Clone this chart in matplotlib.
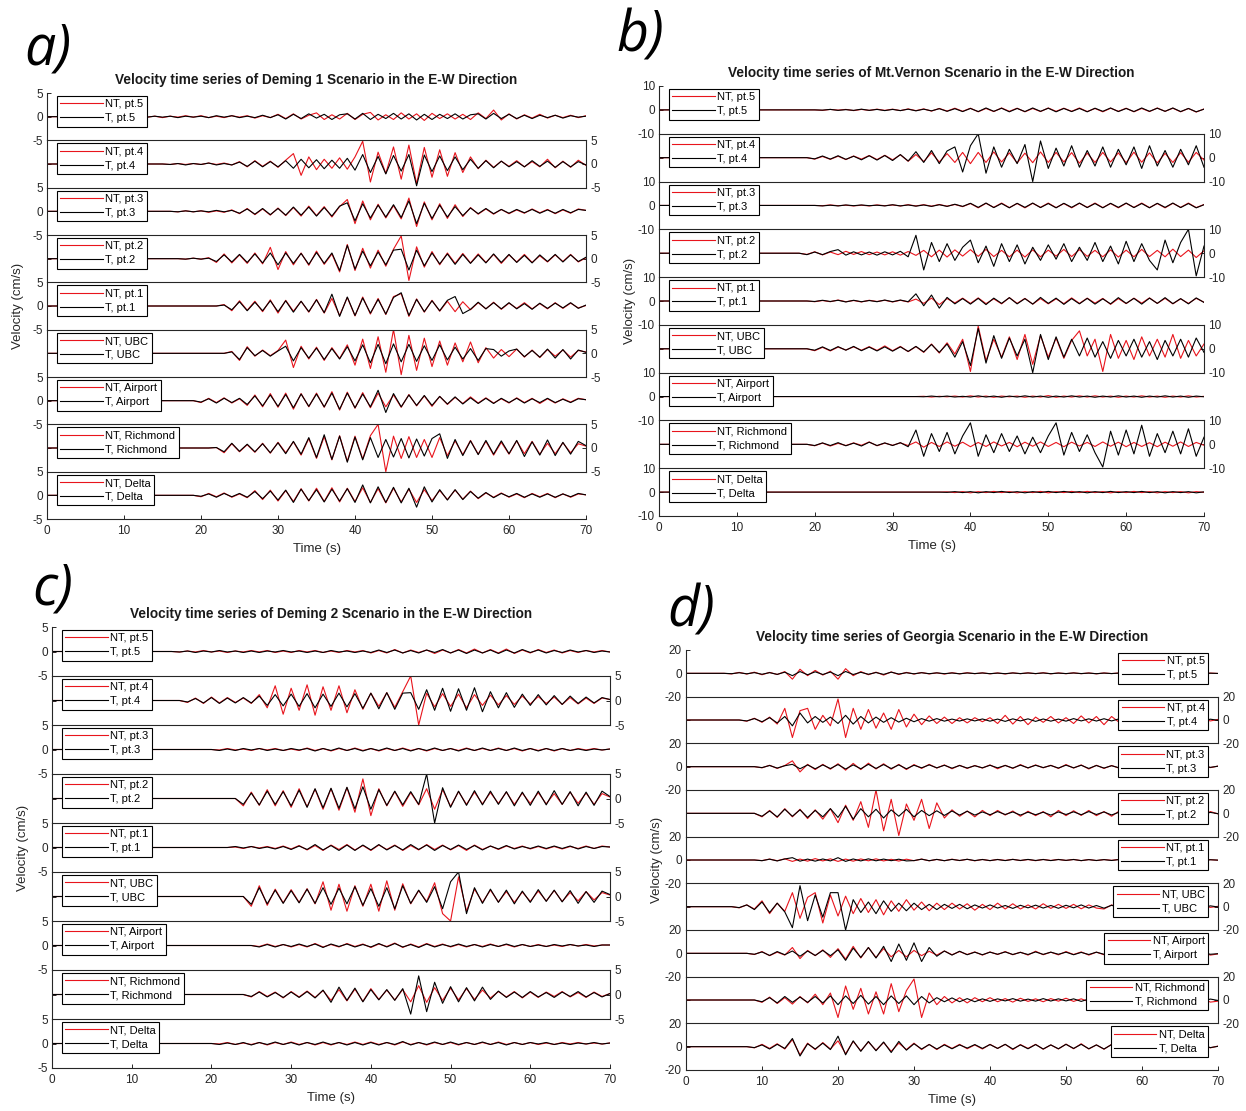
import numpy as np
import matplotlib.pyplot as plt

plt.rcParams['font.family'] = ['Liberation Sans', 'DejaVu Sans']

W, H = 1246, 1111
RED = '#e8141c'
AX = '#262626'

stations = ['pt.5', 'pt.4', 'pt.3', 'pt.2', 'pt.1', 'UBC', 'Airport', 'Richmond', 'Delta']
time_ticks = [0, 10, 20, 30, 40, 50, 60, 70]

# every record: first second where motion starts, then one value per second up to 70 s

# ---- a) Deming 1 ----
deming1_t0 = [12, 15, 16, 17, 22, 23, 19, 21, 19]
deming1_nt = [
    [0, -0.1, 0.1, -0.2, 0.1, -0.1, 0.2, -0.1,
     0.2, -0.2, 0.1, -0.2, 0.2, -0.1, 0.2, -0.3, 0.2, -0.2,
     0.5, -0.4, 0.6, -0.5, 0.3, 0.8, -0.6, 0.4, -0.5, 0.7,
     -0.6, 0.5, 0.9, -0.7, 0.4, -0.6, 0.8, -0.5, 0.6, -0.8,
     0.7, -0.4, 0.6, -0.5, 0.5, -0.6, 0.8, -0.4, 1.4, -0.7,
     0.6, -0.5, 0.4, -0.3, 0.5, -0.3, 0.3, -0.2, 0.3, -0.2, 0.2],
    [0, -0.1, 0.1, -0.1, 0.1,
     -0.1, 0.2, -0.1, 0.2, -0.2, 0.5, -0.6, 0.7, -0.5, 0.6,
     -0.7, 0.8, 2.2, -2.4, 1.5, -1.2, 1.0, -0.9, 1.3, -1.1,
     1.5, 4.8, -3.8, 2.5, -2.0, 3.6, -3.2, 4.0, -4.2, 3.5,
     -2.8, 3.0, -2.6, 2.4, -1.8, 1.5, -1.0, 0.8, -0.7, 0.6,
     -0.5, 0.7, -0.6, 0.5, -0.6, 1.0, -0.8, 0.6, -0.7, 0.8, -0.3],
    [0, -0.1, 0.1, -0.1,
     0.1, -0.2, 0.1, -0.2, 0.3, -0.5, 0.6, -0.7, 0.5, -0.8,
     0.7, -0.9, 0.8, -1.0, 1.1, -0.9, 1.0, -1.2, 1.0, 2.5,
     -2.6, 2.2, -1.8, 1.5, -1.4, 1.2, -1.6, 2.8, -3.2, 2.0,
     -1.8, 1.6, -1.5, 1.4, -1.1, 0.8, -0.6, 0.5, -0.6, 0.4,
     -0.5, 0.3, -0.4, 0.5, -0.3, 0.4, -0.5, 0.3, -0.4, 0.5, 0.2],
    [0, -0.1, 0.1,
     -0.1, 0.2, -0.8, 1.0, -0.9, 0.8, -1.0, 1.2, -1.1, 2.4,
     -2.3, 1.5, -1.3, 1.2, -1.4, 1.6, -1.2, 1.0, -2.8, 3.0,
     -2.5, 2.2, -2.0, 1.8, -1.6, 2.0, 4.8, -4.6, 2.5, -1.8,
     1.5, -1.3, 1.2, -1.0, 1.1, -0.9, 1.0, -0.8, 0.9, -1.0,
     0.8, -0.7, 0.9, -0.8, 0.6, -0.7, 0.8, -0.6, 0.9, -0.7, 0.2],
    [0, 0.3, -1.0, 1.1, -0.9, 1.0, -1.2, 1.3,
     -1.5, 1.2, -1.1, 1.0, -1.3, 1.4, -1.5, 1.6, -2.0, 1.8,
     -2.1, 1.9, -1.7, 1.6, -1.8, 2.0, 2.6, -2.2, 1.5, -1.3,
     1.2, -1.1, 1.0, -1.2, 0.9, -0.8, 0.7, -0.6, 0.8, -0.7,
     0.6, -0.5, 0.7, -0.6, 0.5, -0.6, 0.7, -0.5, 0.6, -0.4, 0.1],
    [0, 0.4, -1.5, 1.4, -0.6, 0.7, -0.5,
     0.6, 2.8, -3.0, 1.5, -1.2, 1.3, -1.5, 1.2, -1.1, 1.8,
     -2.5, 3.0, -3.2, 3.5, -4.0, 5.0, -4.5, 3.8, -3.6, 3.2,
     -2.8, 2.6, -2.5, 2.2, -1.8, 2.4, -2.0, 1.2, -1.0, 0.8,
     -0.7, 0.9, -0.8, 0.7, -0.9, 0.8, -0.6, 0.7, -0.8, 0.6, 0.3],
    [0,
     -0.4, 0.5, -0.4, 0.6, -0.5, 0.4, -1.0, 1.2, -1.3, 1.5,
     -1.4, 1.6, -1.8, 1.5, -1.3, 1.6, -1.4, 1.9, -2.0, 1.8,
     -1.6, 1.7, -1.5, 1.6, -1.3, 1.2, -1.4, 1.3, -1.1, 1.0,
     -1.2, 0.9, -0.8, 0.7, -0.6, 0.8, -0.5, 0.6, -0.5, 0.4,
     -0.5, 0.6, -0.4, 0.5, -0.6, 0.4, -0.5, 0.4, -0.3, 0.5, 0.2],
    [0, 0.1, -1.0, 0.9, -0.8, 0.7, -0.9, 1.0, -1.1,
     1.2, -1.0, 1.3, -1.5, 2.0, -2.2, 2.4, -2.5, 2.6, -2.8,
     2.5, -2.3, 2.6, 5.0, -5.0, 2.5, -2.2, 2.4, -2.0, 1.8,
     -2.0, 2.2, -1.6, 1.5, -1.4, 1.6, -1.3, 1.4, -1.5, 1.2,
     -1.3, 1.5, -1.2, 1.4, -1.3, 1.0, -1.2, 1.1, -1.0, 0.9, 0.4],
    [0,
     -0.3, 0.4, -0.3, 0.5, -0.4, 0.3, -0.5, 1.0, -0.9, 1.1,
     -1.2, 1.0, -1.3, 1.4, -1.2, 1.5, -1.3, 1.6, -1.4, 1.5,
     -1.3, 1.6, -1.5, 1.4, -1.6, 1.5, -1.4, 1.3, -1.5, 1.2,
     -1.1, 1.0, -0.9, 1.1, -0.8, 0.9, -0.7, 0.5, -0.4, 0.5,
     -0.4, 0.3, -0.5, 0.4, -0.3, 0.4, -0.5, 0.3, -0.4, 0.3, 0.1],
]
deming1_t = [
    [0, -0.1, 0.1, -0.1, 0.1, -0.2, 0.1, -0.1,
     0.1, -0.2, 0.2, -0.1, 0.2, -0.2, 0.1, -0.2, 0.3, -0.2,
     0.4, -0.5, 0.5, -0.4, 0.6, -0.3, 0.5, -0.6, 0.4, 0.6,
     -0.5, 0.7, -0.6, 0.5, -0.4, 0.7, -0.5, 0.6, -0.7, 0.5,
     -0.6, 0.5, -0.4, 0.6, -0.5, 0.4, 0.6, -0.5, 0.7, -0.4,
     0.5, -0.4, 0.3, -0.4, 0.3, -0.2, 0.3, -0.3, 0.2, -0.1, 0.1],
    [0, -0.1, 0.1, -0.2, 0.1,
     -0.1, 0.2, -0.2, 0.1, -0.2, 0.4, -0.5, 0.6, -0.6, 0.5,
     -0.6, 0.7, -0.9, 1.0, -0.8, 0.9, -1.0, 0.8, -0.9, 1.2,
     -1.3, 2.0, -1.8, 1.6, -2.1, 1.8, -1.5, 2.0, -4.6, 1.9,
     -1.6, 1.7, -1.4, 1.5, -1.2, 1.0, -0.9, 0.7, -0.8, 0.6,
     -0.6, 0.5, -0.6, 0.7, -0.5, 0.6, -0.7, 0.5, -0.6, 0.5, -0.2],
    [0, -0.1, 0.1, -0.1,
     0.1, -0.1, 0.2, -0.1, 0.2, -0.4, 0.5, -0.6, 0.6, -0.7,
     0.6, -0.8, 0.9, -0.8, 0.9, -1.0, 0.8, -1.0, 1.1, 1.8,
     -2.0, 1.6, -1.4, 1.3, -1.2, 1.4, -1.3, 2.2, -2.6, 1.7,
     -1.5, 1.3, -1.2, 1.0, -0.9, 0.7, -0.5, 0.6, -0.5, 0.4,
     -0.4, 0.4, -0.3, 0.4, -0.4, 0.3, -0.4, 0.4, -0.3, 0.4, 0.2],
    [0, -0.1, 0.1,
     -0.1, 0.1, -0.6, 0.8, -0.7, 0.9, -0.8, 1.0, -0.9, 1.2,
     -1.3, 1.2, -1.0, 1.1, -1.2, 1.3, -1.0, 1.2, -2.5, 2.8,
     -2.2, 1.6, -1.5, 1.4, -1.3, 1.8, 2.0, -2.4, 1.8, -1.5,
     1.2, -1.1, 1.0, -1.2, 0.9, -1.0, 0.8, -0.9, 1.0, -0.8,
     0.9, -0.8, 0.7, -0.9, 0.8, -0.6, 0.9, -0.7, 0.8, -0.6, 0.3],
    [0, 0.2, -0.8, 0.9, -1.0, 0.8, -1.0, 1.1,
     -1.2, 1.1, -1.3, 1.0, -1.2, 1.3, -1.4, 2.5, -2.2, 1.9,
     -2.0, 1.7, -1.5, 1.4, -1.7, 1.8, 2.8, -2.0, 1.4, -1.2,
     1.1, -1.0, 1.2, 2.0, -1.6, -0.7, 0.8, -0.6, 0.7, -0.6,
     0.7, -0.6, 0.5, -0.7, 0.6, -0.5, 0.6, -0.4, 0.7, -0.5, 0.2],
    [0, 0.3, -1.3, 1.2, -0.5, 0.6, -0.6,
     0.5, 1.5, -1.6, 1.2, -1.0, 1.1, -1.3, 1.0, -1.2, 1.4,
     -1.6, 1.8, -2.0, 1.9, -2.2, 2.0, -1.8, 1.9, -1.7, 1.6,
     -1.5, 1.8, -1.4, 1.3, -1.2, 1.0, -1.5, 1.0, 0.8, -0.6,
     0.5, 0.9, -0.7, 0.6, -0.8, 0.9, -1.0, 0.8, -1.2, 0.7, 0.2],
    [0,
     -0.3, 0.4, -0.5, 0.5, -0.4, 0.5, -0.8, 1.0, -1.1, 1.2,
     -1.2, 1.3, -1.5, 1.4, -1.2, 1.4, -1.3, 1.6, -1.8, 1.6,
     -1.5, 1.4, -1.3, 2.2, -2.5, 1.5, -1.3, 1.2, -1.0, 1.1,
     -1.0, 0.9, -0.7, 0.8, -0.7, 0.6, -0.6, 0.5, -0.6, 0.5,
     -0.4, 0.5, -0.5, 0.4, -0.4, 0.5, -0.4, 0.3, -0.4, 0.4, 0.2],
    [0, 0.1, -0.8, 1.0, -0.7, 0.8, -0.8, 0.9, -1.0,
     1.1, -1.2, 1.4, -1.3, 2.2, -2.0, 2.8, -2.4, 2.5, -3.0,
     2.3, -2.5, 2.2, -2.0, 1.8, -1.9, 2.0, -2.1, 1.9, -1.7,
     2.0, 3.0, -2.2, 1.8, -1.6, 1.5, -1.4, 1.6, -1.3, 1.5,
     -1.2, 1.6, -1.8, 1.3, -1.5, 1.7, -1.6, 1.2, -1.3, 1.4, 0.5],
    [0,
     -0.2, 0.3, -0.4, 0.4, -0.3, 0.4, -0.4, 0.8, -0.7, 0.9,
     -1.0, 1.1, -1.5, 1.3, -1.1, 1.2, -1.4, 1.3, -1.2, 1.4,
     -1.5, 2.2, -1.6, 1.8, -1.5, 1.7, -1.6, 1.5, -2.5, 1.8,
     -1.4, 1.2, -1.0, 1.2, -0.9, 0.8, -0.6, 0.6, -0.5, 0.4,
     -0.3, 0.4, -0.4, 0.3, -0.4, 0.3, -0.4, 0.3, -0.3, 0.4, 0.1],
]

# ---- b) Mt.Vernon ----
mtvernon_t0 = [20, 19, 20, 18, 19, 19, 33, 19, 36]
mtvernon_nt = [
    [0, -0.2, 0.2, -0.1, 0.2, -0.3, 0.2, -0.2, 0.3, -0.2,
     0.3, -0.3, 0.4, -0.3, 0.4, -0.5, 0.6, -0.5, 0.7, -0.6,
     0.7, -0.8, 0.6, -0.7, 0.8, -0.6, 0.7, -0.8, 0.6, -0.7,
     0.8, -0.6, 0.7, -0.6, 0.8, -0.7, 0.6, -0.8, 0.7, -0.6,
     0.7, -0.8, 0.6, -0.7, 0.8, -0.6, 0.7, -0.8, 0.6, -0.9, 0.4],
    [0,
     -0.6, 0.5, -0.7, 0.6, -0.8, 0.7, -0.6, 0.9, -0.8, 1.0,
     -0.9, 1.2, -1.5, 1.3, -1.6, 2.0, -1.8, 1.7, -2.0, 2.2,
     -2.5, 2.2, -2.0, 2.4, -1.8, 2.0, -2.2, 1.9, -2.1, 2.4,
     -2.0, 2.2, -1.8, 2.1, -2.3, 1.9, -2.0, 2.2, -1.8, 2.0,
     -2.1, 2.3, -1.9, 2.0, -2.2, 1.8, -2.0, 2.1, -1.9, 2.2, -1.0],
    [0, -0.1, 0.2, -0.1, 0.1, -0.2, 0.1, -0.2, 0.2, -0.1,
     0.2, -0.2, 0.3, -0.2, 0.3, -0.3, 0.4, -0.3, 0.4, -0.5,
     0.8, -1.0, 0.9, -0.8, 1.0, -0.9, 0.8, -1.0, 0.9, -0.8,
     1.0, -0.9, 0.8, -1.0, 0.9, -0.8, 1.0, -0.9, 0.8, -1.0,
     0.9, -0.8, 1.0, -0.9, 0.8, -1.0, 0.9, -0.8, 1.0, -0.9, 0.4],
    [0, -0.5,
     0.6, -0.7, 0.5, -0.6, 0.8, -0.5, 0.7, -0.6, 0.5, -0.7,
     0.6, -0.8, 0.7, -0.9, 1.2, -1.5, 1.3, -1.6, 1.4, -1.2,
     1.5, -1.3, 1.6, -1.4, 1.2, -1.5, 1.3, -1.6, 1.4, -1.5,
     1.3, -1.2, 1.6, -1.4, 1.5, -1.3, 1.2, -1.5, 1.4, -1.6,
     1.3, -1.5, 1.6, -1.4, 1.2, -1.5, 1.7, -1.4, 1.3, -1.8, 1.0],
    [0,
     -0.3, 0.2, -0.3, 0.4, -0.3, 0.2, -0.4, 0.3, -0.2, 0.3,
     -0.4, 0.3, -0.4, 0.8, -1.0, 1.2, -1.5, 1.0, -0.8, 1.2,
     -1.0, 1.3, -1.1, 0.9, -1.2, 1.4, -1.0, 1.1, -1.3, 1.0,
     -1.2, 0.9, -1.1, 1.3, -1.0, 1.2, -0.9, 1.1, -1.4, 1.0,
     -1.1, 1.2, -0.9, 1.3, -1.0, 1.1, -1.2, 0.9, -1.0, 1.1, -0.5],
    [0,
     -0.8, 0.6, -0.9, 0.7, -0.5, 0.8, -0.6, 0.9, -0.7, 1.2,
     -0.8, 1.0, -1.2, 0.9, -1.5, 2.0, -1.8, 2.5, -2.2, 4.0,
     -9.5, 9.5, -5.0, 4.0, -3.5, 5.0, -4.5, 6.0, -6.5, 5.5,
     -3.5, 4.5, -4.0, 3.5, 7.5, -3.0, 4.0, -9.5, 6.0, -4.0,
     3.5, -4.5, 5.0, -3.0, 4.0, -3.5, 6.0, -4.0, 3.5, -3.0, 2.0],
    [0, 0.1, -0.2, 0.1, -0.1, 0.2, -0.2,
     0.3, -0.2, 0.2, -0.3, 0.2, -0.1, 0.2, -0.3, 0.2, -0.2,
     0.4, -0.3, 0.2, -0.2, 0.3, -0.2, 0.3, -0.2, 0.2, -0.3,
     0.2, -0.2, 0.3, -0.2, 0.2, -0.3, 0.2, -0.2, 0.3, -0.2, 0.1],
    [0,
     -0.6, 0.5, -0.7, 0.4, -0.5, 0.6, -0.4, 1.0, -0.6, 0.5,
     -0.4, 0.6, -0.5, 1.0, -1.2, 0.8, -0.9, 1.0, -0.8, 0.9,
     -1.0, 0.8, -0.9, 1.0, -0.7, 0.8, -1.0, 0.9, -0.8, 1.0,
     -0.9, 0.8, -1.0, 0.9, -0.7, 0.8, -0.9, 1.0, -0.8, 0.9,
     -1.0, 0.8, -0.9, 0.7, -1.0, 0.9, -0.8, 1.0, -0.9, 0.8, -0.4],
    [0, 0.1, -0.2, 0.2,
     -0.3, 0.2, -0.2, 0.3, -0.2, 0.2, -0.3, 0.2, -0.2, 0.3,
     -0.3, 0.2, -0.2, 0.3, -0.2, 0.3, -0.2, 0.2, -0.3, 0.2,
     -0.2, 0.3, -0.2, 0.2, -0.3, 0.2, -0.2, 0.2, -0.3, 0.2, -0.1],
]
mtvernon_t = [
    [0, -0.1, 0.2, -0.2, 0.1, -0.2, 0.3, -0.2, 0.2, -0.3,
     0.2, -0.3, 0.3, -0.4, 0.3, -0.4, 0.5, -0.6, 0.5, -0.7,
     0.6, -0.7, 0.8, -0.6, 0.7, -0.8, 0.6, -0.7, 0.8, -0.6,
     0.7, -0.8, 0.6, -0.7, 0.6, -0.8, 0.7, -0.6, 0.8, -0.7,
     0.6, -0.7, 0.8, -0.6, 0.7, -0.6, 0.8, -0.7, 0.6, -0.8, 0.3],
    [0,
     -0.5, 0.7, -0.6, 0.8, -0.7, 0.6, -0.9, 0.8, -1.0, 0.9,
     -1.2, 1.3, -1.4, 2.5, -2.0, 3.0, -2.5, 2.8, 4.5, -6.0,
     5.0, 10.0, -6.5, 4.5, -4.0, 3.5, -2.5, 5.5, -10.0, 7.0,
     -4.5, 4.0, -3.5, 5.0, -4.0, 3.0, -3.5, 4.5, -4.0, 3.5,
     -3.0, 4.5, -4.5, 5.0, -3.5, 3.0, -4.0, 3.5, -3.0, 5.0, -4.0],
    [0, -0.2, 0.1, -0.2, 0.2, -0.1, 0.2, -0.1, 0.1, -0.2,
     0.3, -0.2, 0.2, -0.3, 0.2, -0.4, 0.3, -0.4, 0.5, -0.4,
     0.9, -0.8, 1.0, -0.9, 0.8, -1.0, 0.9, -0.8, 1.0, -0.9,
     0.8, -1.0, 0.9, -0.8, 1.0, -0.9, 0.8, -1.0, 0.9, -0.8,
     1.0, -0.9, 0.8, -1.0, 0.9, -0.8, 1.0, -0.9, 0.8, -1.0, 0.3],
    [0, -0.6,
     0.5, -0.6, 0.7, 1.5, -0.8, 0.6, -0.7, 0.5, -0.8, 0.6,
     -0.7, 0.8, -1.5, 7.5, -7.0, 4.5, -3.5, 4.0, -3.0, 2.5,
     5.5, -4.0, 3.0, -5.5, 4.0, -3.5, 3.5, -4.5, 2.5, -3.0,
     3.5, -2.5, 4.0, -3.5, 2.5, -3.0, 4.5, -3.5, 3.0, -4.5,
     5.0, -3.5, 4.0, -3.0, -7.0, 5.5, -4.0, 4.5, 10.0, -9.5, 3.0],
    [0,
     -0.2, 0.3, -0.2, 0.3, -0.4, 0.3, -0.3, 0.2, -0.3, 0.4,
     -0.3, 0.4, -0.3, 3.0, -2.0, 2.5, -3.0, 1.5, -1.2, 1.0,
     -1.3, 1.1, -1.5, 1.2, -1.0, 1.4, -1.2, 1.0, -1.3, 1.5,
     -1.0, 1.2, -1.4, 1.0, -1.2, 1.1, -1.3, 0.9, -1.2, 1.4,
     -1.0, 1.1, -1.3, 1.2, -1.0, 1.4, -1.1, 1.0, -1.2, 1.3, -0.6],
    [0,
     -0.6, 0.8, -0.7, 0.9, -0.6, 1.0, -0.8, 0.7, -0.9, 0.8,
     -1.0, 0.8, -1.1, 1.0, -1.3, 1.8, -1.5, 2.0, -3.5, 3.0,
     -7.0, 8.5, -6.0, 5.5, -4.0, 4.5, -3.0, 4.0, -10.0, 6.0,
     -4.5, 5.0, -3.5, 4.0, -3.0, 4.5, -3.5, 3.0, -4.0, 3.5,
     -3.0, 4.0, -3.5, 3.0, -4.5, 3.5, -3.0, 4.0, -3.5, 4.5, -1.5],
    [0, -0.1, 0.2, -0.1, 0.2, -0.2, 0.1,
     -0.2, 0.3, -0.2, 0.2, -0.3, 0.2, -0.2, 0.3, -0.2, 0.2,
     -0.3, 0.2, -0.2, 0.3, -0.2, 0.2, -0.3, 0.2, -0.2, 0.3,
     -0.2, 0.2, -0.3, 0.2, -0.2, 0.3, -0.2, 0.2, -0.3, 0.2, -0.1],
    [0,
     -0.5, 0.6, -0.5, 0.7, -0.6, 0.5, -0.7, 0.9, -0.5, 0.6,
     -0.5, 0.7, -1.0, 6.0, -5.0, 4.5, -3.0, 5.0, -4.0, 3.5,
     9.0, -5.0, 4.0, -3.5, 4.5, -3.0, 3.5, -4.0, 3.0, -3.5,
     3.5, 9.0, -4.5, 5.0, -3.0, 4.0, -3.5, -9.5, 5.5, -4.5,
     6.0, -4.0, 8.0, -5.0, 4.5, -3.5, 5.5, -4.0, 6.5, -5.0, 3.0],
    [0, -0.1, 0.2, -0.2,
     0.2, -0.3, 0.2, -0.2, 0.3, -0.2, 0.2, -0.3, 0.2, -0.2,
     0.3, -0.2, 0.3, -0.2, 0.2, -0.3, 0.2, -0.2, 0.3, -0.2,
     0.2, -0.2, 0.3, -0.2, 0.2, -0.3, 0.2, -0.2, 0.2, -0.3, 0.1],
]

# ---- c) Deming 2 ----
deming2_t0 = [15, 16, 20, 23, 22, 24, 25, 24, 20]
deming2_nt = [
    [0, -0.1, 0.1, -0.1, 0.2,
     -0.1, 0.1, -0.2, 0.1, -0.1, 0.2, -0.1, 0.2, -0.2, 0.1,
     -0.2, 0.2, -0.1, 0.2, -0.2, 0.1, -0.2, 0.2, -0.1, 0.2,
     -0.3, 0.2, -0.3, 0.4, -0.3, 0.3, -0.2, 0.3, -0.4, 0.3,
     -0.3, 0.4, -0.3, 0.5, -0.3, 0.4, -0.3, 0.5, -0.4, 0.3,
     -0.3, 0.4, -0.2, 0.3, -0.3, 0.2, -0.2, 0.2, -0.1, 0.2, -0.1],
    [0, -0.4, 0.5, -0.6,
     0.7, -0.5, 0.6, -0.4, 0.5, -0.6, 1.2, -1.5, 3.0, -2.8,
     2.5, -2.0, 3.2, -3.0, 2.8, -2.0, 3.0, -2.5, 2.2, -1.8,
     1.5, -1.2, 1.6, -1.4, 1.8, 5.0, -5.0, 1.5, -1.3, 1.4,
     -1.2, 1.3, -1.5, 1.2, -1.0, 1.1, -0.9, 1.0, -0.8, 0.9,
     -0.7, 0.8, -0.6, 0.7, -0.8, 0.6, -0.7, 0.5, -0.6, 0.5, 0.2],
    [0, -0.1, 0.2, -0.1, 0.1, -0.2, 0.2, -0.1, 0.2, -0.2,
     0.1, -0.2, 0.3, -0.2, 0.2, -0.3, 0.2, -0.2, 0.3, -0.2,
     0.2, -0.3, 0.2, -0.2, 0.3, -0.2, 0.2, -0.3, 0.2, -0.2,
     0.2, -0.2, 0.3, -0.2, 0.2, -0.2, 0.3, -0.2, 0.2, -0.3,
     0.2, -0.2, 0.2, -0.3, 0.2, -0.2, 0.2, -0.1, 0.2, -0.1, 0.1],
    [0, -1.5, 1.3, -1.4, 1.8, -1.5, 1.6,
     -1.8, 2.0, -1.7, 1.9, -2.2, 2.0, -2.4, 2.2, -2.8, 4.0,
     -3.5, 2.0, -1.5, 1.4, -1.6, 1.2, -1.3, 2.0, -2.2, 1.8,
     -1.6, 1.4, -1.2, 1.3, -1.1, 1.2, -1.0, 1.3, -1.2, 1.1,
     -1.0, 1.2, -1.1, 1.0, -1.2, 1.3, -1.0, 1.1, -1.2, 1.0, 0.3],
    [0, 0.1, -0.2, 0.2, -0.1, 0.2, -0.2, 0.3,
     -0.3, 0.4, -0.5, 0.4, -0.6, 0.5, -0.4, 0.6, -0.5, 0.4,
     -0.6, 0.5, -0.4, 0.5, -0.6, 0.4, -0.5, 0.6, -0.4, 0.5,
     -0.5, 0.4, -0.6, 0.5, -0.4, 0.3, -0.4, 0.3, -0.2, 0.3,
     -0.3, 0.2, -0.3, 0.2, -0.3, 0.2, -0.2, 0.3, -0.2, 0.3, 0.1],
    [0, -2.0, 2.2, -1.8, 1.5, -1.3,
     1.4, -1.2, 1.6, -1.5, 3.0, -2.8, 2.5, -3.0, 2.2, -2.0,
     2.5, -3.0, 3.2, -2.8, 2.6, -1.5, 1.2, -1.0, 2.8, -3.5,
     -5.0, 4.0, -3.0, 1.5, -1.2, 1.3, -1.1, 1.0, -1.2, 0.9,
     -1.0, 1.1, -0.9, 1.2, -1.0, 0.8, -0.9, 1.0, -0.7, 0.8, 0.3],
    [0, -0.2, 0.3, -0.2, 0.2,
     -0.3, 0.2, -0.3, 0.4, -0.3, 0.2, -0.3, 0.4, -0.2, 0.3,
     -0.4, 0.3, -0.2, 0.5, -0.4, 0.3, -0.3, 0.4, -0.2, 0.3,
     -0.3, 0.2, -0.3, 0.2, -0.2, 0.3, -0.2, 0.2, -0.3, 0.2,
     -0.2, 0.2, -0.2, 0.1, -0.2, 0.2, -0.1, 0.2, -0.1, 0.1, 0.1],
    [0, -0.5, 0.6, -0.4, 0.5, -0.7,
     0.6, -0.5, 0.7, -0.6, 0.8, -1.2, 1.0, -1.3, 1.1, -1.4,
     1.2, -1.0, 0.9, -1.1, 1.0, -1.5, 1.8, -1.6, 1.4, -1.2,
     1.3, -1.1, 1.2, -1.0, 0.9, -0.7, 0.6, -0.5, 0.6, -0.7,
     0.5, -0.6, 0.5, -0.4, 0.6, -0.5, 0.4, -0.6, 0.5, -0.4, 0.2],
    [0, -0.1, 0.2, -0.2, 0.1, -0.2, 0.2, -0.3, 0.2, -0.2,
     0.3, -0.2, 0.2, -0.3, 0.2, -0.3, 0.2, -0.2, 0.3, -0.2,
     0.3, -0.2, 0.2, -0.3, 0.3, -0.2, 0.2, -0.3, 0.2, -0.2,
     0.2, -0.3, 0.2, -0.2, 0.2, -0.2, 0.3, -0.2, 0.2, -0.2,
     0.2, -0.2, 0.1, -0.2, 0.2, -0.1, 0.2, -0.1, 0.1, -0.1, 0.1],
]
deming2_t = [
    [0, -0.1, 0.1, -0.2, 0.1,
     -0.1, 0.2, -0.1, 0.1, -0.2, 0.1, -0.2, 0.1, -0.1, 0.2,
     -0.1, 0.1, -0.2, 0.1, -0.2, 0.2, -0.1, 0.1, -0.2, 0.1,
     -0.2, 0.3, -0.2, 0.3, -0.3, 0.2, -0.3, 0.3, -0.2, 0.4,
     -0.3, 0.3, -0.4, 0.3, -0.3, 0.3, -0.4, 0.3, -0.3, 0.4,
     -0.2, 0.3, -0.3, 0.2, -0.2, 0.3, -0.1, 0.2, -0.2, 0.1, -0.1],
    [0, -0.3, 0.4, -0.5,
     0.6, -0.6, 0.5, -0.5, 0.6, -0.5, 0.9, -1.0, 1.2, -1.1,
     1.3, -1.2, 1.4, -1.5, 1.3, -1.2, 1.5, -1.3, 1.4, -1.6,
     1.5, -1.7, 1.6, -1.8, 1.5, 1.6, -1.8, 2.2, -2.0, 2.5,
     -2.2, 2.4, -2.0, 2.6, -2.3, 1.8, -1.5, 1.6, -1.4, 1.3,
     -1.0, 1.2, -0.9, 1.0, -0.8, 0.9, -0.6, 0.7, -0.5, 0.6, 0.2],
    [0, -0.2, 0.1, -0.2, 0.2, -0.1, 0.2, -0.2, 0.1, -0.2,
     0.2, -0.1, 0.2, -0.3, 0.2, -0.2, 0.3, -0.2, 0.2, -0.3,
     0.2, -0.2, 0.3, -0.2, 0.2, -0.3, 0.2, -0.2, 0.3, -0.2,
     0.2, -0.3, 0.2, -0.2, 0.3, -0.2, 0.2, -0.2, 0.3, -0.2,
     0.2, -0.3, 0.2, -0.2, 0.2, -0.2, 0.1, -0.2, 0.1, -0.1, 0.1],
    [0, -1.2, 1.1, -1.3, 1.5, -1.2, 1.4,
     -1.5, 1.7, -1.8, 2.0, -1.9, 2.1, -2.0, 2.3, -2.1, 2.4,
     -2.2, 1.8, -1.4, 1.5, -1.3, 1.4, -1.2, 5.0, -5.0, 2.2,
     -1.8, 1.5, -1.4, 1.6, -1.3, 1.5, -1.2, 1.4, -1.5, 1.3,
     -1.4, 1.5, -1.3, 1.6, -1.2, 1.4, -1.5, 1.3, -1.4, 1.5, 0.4],
    [0, 0.2, -0.1, 0.2, -0.2, 0.1, -0.3, 0.2,
     -0.4, 0.3, -0.4, 0.6, -0.5, 0.4, -0.6, 0.5, -0.6, 0.5,
     -0.5, 0.6, -0.5, 0.4, -0.5, 0.6, -0.4, 0.5, -0.6, 0.4,
     -0.4, 0.5, -0.4, 0.4, -0.5, 0.3, -0.3, 0.4, -0.3, 0.2,
     -0.2, 0.3, -0.2, 0.3, -0.2, 0.3, -0.3, 0.2, -0.2, 0.2, 0.1],
    [0, -1.6, 1.8, -1.5, 1.3, -1.4,
     1.2, -1.3, 1.5, -1.4, 1.8, -1.6, 1.7, -1.5, 2.0, -1.8,
     1.6, -2.0, 1.8, -2.5, 2.2, -1.4, 1.3, -1.2, 2.0, -2.5,
     3.0, 5.0, -3.5, 1.8, -1.4, 1.5, -1.2, 1.3, -1.5, 1.1,
     -1.2, 1.4, -1.0, 1.3, -1.1, 1.2, -1.4, 1.0, -1.2, 1.1, 0.4],
    [0, -0.3, 0.2, -0.3, 0.2,
     -0.2, 0.3, -0.2, 0.3, -0.4, 0.3, -0.2, 0.3, -0.3, 0.2,
     -0.3, 0.4, -0.3, 0.4, -0.3, 0.2, -0.4, 0.3, -0.3, 0.2,
     -0.2, 0.3, -0.2, 0.2, -0.3, 0.2, -0.2, 0.3, -0.2, 0.2,
     -0.2, 0.1, -0.2, 0.2, -0.1, 0.2, -0.1, 0.1, -0.2, 0.1, 0.1],
    [0, -0.4, 0.5, -0.5, 0.4, -0.6,
     0.5, -0.6, 0.6, -0.7, 0.9, -1.6, 1.5, -1.2, 1.3, -1.5,
     1.0, -1.1, 1.0, -1.2, 1.2, -4.0, 3.8, -3.5, 2.5, -1.8,
     1.6, -1.5, 1.4, -1.3, 1.5, -1.0, 0.7, -0.6, 0.5, -0.6,
     0.6, -0.5, 0.4, -0.6, 0.5, -0.4, 0.6, -0.5, 0.4, -0.5, 0.2],
    [0, -0.2, 0.1, -0.2, 0.2, -0.3, 0.2, -0.2, 0.3, -0.2,
     0.2, -0.3, 0.2, -0.2, 0.3, -0.2, 0.2, -0.3, 0.2, -0.3,
     0.2, -0.3, 0.2, -0.2, 0.4, -0.3, 0.2, -0.2, 0.3, -0.2,
     0.3, -0.2, 0.2, -0.2, 0.3, -0.2, 0.2, -0.3, 0.2, -0.2,
     0.2, -0.1, 0.2, -0.2, 0.1, -0.2, 0.1, -0.1, 0.2, -0.1, 0.1],
]

# ---- d) Georgia ----
georgia_t0 = [5, 7, 9, 9, 9, 6, 8, 9, 8]
georgia_nt = [
    [0, -0.5, 0.8, -0.6, 1.0,
     -1.2, 0.8, -1.0, 1.5, -5.0, 3.5, -2.0, 2.5, -1.5, 1.8,
     -5.0, 4.0, -2.0, 1.5, -1.2, 1.0, -1.5, 1.2, -1.0, 0.8,
     -0.6, 0.7, -0.5, 0.4, -0.6, 0.5, -0.4, 0.5, -0.3, 0.4,
     -0.4, 0.3, -0.5, 0.4, -0.3, 0.4, -0.3, 0.5, -0.4, 0.3,
     -0.3, 0.4, -0.3, 0.3, -0.4, 0.3, -0.2, 0.3, -0.3, 0.2,
     -0.3, 0.4, -0.3, 0.2, -0.3, 0.3, -0.2, 0.3, -0.2, 0.2, -0.1],
    [0, -1.0, 1.5,
     -2.0, 2.5, -3.5, 10.0, -15.0, 8.0, 10.0, -8.0, 4.0, -5.0,
     18.0, -15.0, 10.0, -8.0, 9.0, -7.0, 6.0, -8.0, 9.0, -6.0,
     5.0, -4.0, 3.5, -3.0, 2.5, -3.0, 2.0, -2.5, 2.0, -1.5,
     2.0, -3.0, 4.0, -3.5, 3.0, -4.0, 2.5, -2.0, 3.0, -2.5,
     2.0, -3.0, 3.5, -2.5, 3.0, -4.0, 3.0, -2.0, 2.5, -2.0,
     1.5, -2.0, 1.5, -1.0, 1.5, -1.2, 1.0, -1.5, 1.0, -0.8, 0.5],
    [0,
     -1.0, 1.2, -1.5, 1.0, 5.0, -4.5, 2.0, -2.5, 2.0, -2.2,
     2.5, -3.0, 2.8, -2.5, 3.0, -2.0, 2.5, -2.2, 2.0, -2.5,
     1.8, -1.5, 2.0, -1.2, 1.5, -1.8, 1.2, -1.5, 1.0, -1.2,
     1.5, -1.8, 1.2, -1.5, 1.8, -1.2, 1.5, -1.0, 1.2, -1.5,
     1.8, -1.2, 1.5, -2.0, 1.2, -1.5, 1.0, -1.3, 1.5, -1.2,
     1.0, -1.5, 1.8, -1.2, 1.5, -1.0, 1.3, -1.2, 1.0, -0.8, 0.5],
    [0,
     -3.0, 2.5, -3.5, 4.0, -3.0, 3.5, -4.5, 3.0, -5.0, 4.0,
     -8.0, 7.0, -6.0, 10.0, -12.0, 20.0, -15.0, 12.0, -19.0, 8.0,
     -6.0, 12.0, -13.0, 9.0, -4.0, 3.0, -2.5, 2.0, -3.0, 2.5,
     -2.0, 2.5, -1.5, 2.0, -2.5, 1.8, -2.0, 1.5, -3.0, 2.5,
     -2.0, 2.2, -1.8, 2.5, -2.0, 1.5, -2.5, 2.0, -1.5, 1.8,
     -2.0, 1.5, -1.8, 2.0, -1.5, 1.2, -1.8, 1.5, -1.0, 1.5, -0.5],
    [0,
     -0.5, 0.8, -0.6, 1.0, -1.2, 0.8, -1.0, 1.2, -0.8, 1.0,
     -1.2, 0.8, -1.0, 0.9, -0.7, 1.0, -0.8, 0.6, -0.9, 0.7,
     -0.6, 0.8, -0.7, 0.5, -0.6, 0.7, -0.5, 0.6, -0.7, 0.5,
     -0.6, 0.5, -0.4, 0.6, -0.5, 0.4, -0.6, 0.5, -0.4, 0.5,
     -0.4, 0.5, -0.6, 0.4, -0.5, 0.4, -0.3, 0.5, -0.4, 0.3,
     -0.4, 0.5, -0.3, 0.4, -0.3, 0.4, -0.5, 0.3, -0.4, 0.3, -0.2],
    [0, -1.0, 1.5, -2.0,
     5.0, -6.0, 3.0, -4.0, 12.0, -10.0, 8.0, 12.0, -14.0, 10.0,
     -8.0, 9.0, -6.0, 7.0, -5.0, 6.0, -7.0, 5.0, -4.0, 6.0,
     -3.0, 4.0, -3.5, 3.0, -2.5, 3.0, -2.0, 2.5, -3.0, 2.0,
     -2.5, 3.0, -2.0, 2.5, -2.0, 1.5, -2.0, 2.5, -1.5, 2.0,
     -1.5, 2.0, -1.8, 1.5, -1.2, -2.0, 1.5, -1.0, 1.2, -0.8,
     1.0, -0.8, 1.2, -1.0, 0.8, -1.0, 0.9, -0.7, 0.8, -0.6, 0.3],
    [0, -1.0,
     1.5, -2.0, 1.0, -1.5, 5.0, -4.5, 2.5, -2.0, 3.0, -3.5,
     4.0, -5.0, 6.0, -4.0, 5.0, -3.5, 4.0, -3.0, 2.5, -3.0,
     2.5, -2.0, 1.8, -1.5, 2.0, -1.2, 1.5, -1.0, 1.2, -1.5,
     1.2, -1.0, 1.5, -1.2, 1.0, -1.5, 1.8, -1.2, 1.0, -1.3,
     1.5, -1.0, 1.2, -1.5, 1.0, -1.2, 1.5, -1.0, 1.2, -0.8,
     1.0, -1.2, 0.8, -1.0, 1.2, -0.8, 1.0, -1.2, 0.9, -1.5, -0.5],
    [0,
     -2.0, 2.5, -3.0, 2.0, -3.5, 3.0, -2.5, 5.0, -4.0, 6.0,
     -15.0, 12.0, -8.0, 10.0, -12.0, 7.0, -12.0, 14.0, -10.0, 8.0,
     18.0, -15.0, 6.0, -4.0, 3.0, -2.5, 2.0, -2.5, 2.0, -1.5,
     2.0, -1.5, 1.2, -1.8, 1.5, -1.2, 1.0, -1.5, 1.2, -1.0,
     1.5, -1.2, 1.0, -1.5, 1.2, -1.0, 0.8, -1.2, 1.0, -0.8,
     1.2, -1.0, 0.8, -1.2, 1.0, -0.8, 1.2, -1.5, 1.0, -1.8, -1.0],
    [0, -1.0,
     2.0, -1.5, 2.5, -2.0, 6.0, -7.0, 3.0, -2.5, 3.5, -2.0,
     5.0, -6.0, 4.5, -3.5, 4.0, -3.0, 3.5, -4.0, 3.0, -2.5,
     3.0, -2.5, 2.0, -2.5, 2.0, -1.5, 2.0, -1.8, 1.5, -2.0,
     2.0, -1.5, 2.0, -2.5, 1.8, -1.5, 2.0, -2.2, 1.5, -2.0,
     2.2, -1.8, 2.5, -2.0, 1.5, -2.2, 2.0, -1.5, 2.5, -2.0,
     1.8, -1.5, 2.0, -1.8, 1.5, -1.2, 1.8, -1.5, 1.2, -1.0, 0.5],
]
georgia_t = [
    [0, -0.3, 0.5, -0.4, 0.6,
     -0.8, 0.6, -0.9, 1.0, -2.0, 1.5, -1.2, 1.3, -1.0, 1.1,
     -2.0, 1.6, -1.0, 0.9, -0.8, 0.7, -0.9, 1.0, -0.6, 0.5,
     -0.4, 0.5, -0.3, 0.4, -0.3, 0.3, -0.4, 0.3, -0.2, 0.3,
     -0.3, 0.2, -0.3, 0.3, -0.2, 0.3, -0.2, 0.3, -0.3, 0.2,
     -0.2, 0.3, -0.2, 0.2, -0.3, 0.2, -0.2, 0.2, -0.2, 0.2,
     -0.2, 0.3, -0.2, 0.2, -0.2, 0.2, -0.1, 0.2, -0.2, 0.1, -0.1],
    [0, -0.8, 1.2,
     -1.5, 2.0, -2.5, 3.0, -5.0, 6.0, -2.5, 3.0, -2.0, 2.5,
     -3.0, 4.0, -3.5, 3.0, -2.5, 2.5, -2.0, 2.0, -1.8, 1.5,
     -1.5, 1.2, -1.0, 1.2, -1.0, 0.8, -0.9, 1.0, -0.8, 0.9,
     -1.0, 0.8, -1.2, 1.0, -0.8, 1.0, -1.2, 0.9, -1.0, 0.8,
     -1.0, 1.2, -0.8, 1.0, -0.9, 1.1, -0.8, 1.0, -1.2, 0.9,
     -0.8, 1.0, -0.9, 0.8, -1.0, 0.9, -0.7, 0.8, -0.9, 0.7, -0.3],
    [0,
     -0.8, 1.0, -1.2, 0.8, 2.0, -1.8, 1.5, -1.8, 1.5, -1.6,
     1.8, -2.0, 1.5, -1.8, 2.0, -1.5, 1.8, -1.6, 1.5, -1.8,
     1.2, -1.0, 1.5, -1.0, 1.2, -1.3, 1.0, -1.2, 0.8, -1.0,
     1.2, -1.0, 1.0, -1.2, 1.3, -1.0, 1.2, -0.8, 1.0, -1.2,
     1.3, -1.0, 1.2, -1.5, 1.0, -1.2, 0.8, -1.0, 1.2, -1.0,
     0.8, -1.2, 1.3, -1.0, 1.2, -0.8, 1.0, -1.0, 0.8, -0.6, 0.4],
    [0,
     -2.5, 2.0, -3.0, 3.5, -2.5, 3.0, -3.5, 2.5, -3.0, 4.0,
     -3.5, 6.0, -5.0, 4.0, -3.0, 3.5, -4.0, 3.0, -2.5, 3.5,
     -3.0, 2.5, -2.0, 2.2, -1.8, 2.0, -1.5, 1.8, -1.5, 1.2,
     -1.2, 1.5, -1.0, 1.2, -1.5, 1.0, -1.2, 1.0, -1.5, 1.2,
     -1.0, 1.3, -1.2, 1.5, -1.0, 1.2, -1.4, 1.0, -0.8, 1.2,
     -1.0, 0.8, -1.2, 1.0, -0.8, 0.9, -1.0, 0.8, -0.6, 0.8, -0.3],
    [0,
     -0.6, 0.7, -0.8, 0.9, 2.0, -1.0, 0.8, -1.0, 0.9, -0.8,
     2.0, -1.2, 0.9, -0.8, 1.0, -0.7, 0.8, -0.6, 0.7, -0.8,
     -0.5, 0.7, -0.6, 0.5, -0.6, 0.5, -0.4, 0.6, -0.5, 0.4,
     -0.5, 0.4, -0.5, 0.5, -0.4, 0.5, -0.4, 0.4, -0.5, 0.4,
     -0.3, 0.4, -0.5, 0.3, -0.4, 0.3, -0.4, 0.4, -0.3, 0.4,
     -0.3, 0.4, -0.3, 0.3, -0.4, 0.3, -0.3, 0.4, -0.3, 0.2, -0.1],
    [0, -0.8, 1.5, -2.5,
     4.0, -5.0, 3.0, -4.5, -18.0, 18.0, -12.0, 10.0, -9.0, 12.0,
     12.0, -20.0, 6.0, -5.0, 4.0, -6.0, 5.0, -4.0, 3.0, -3.5,
     3.0, -2.5, 2.0, -2.5, 2.0, -1.5, 2.0, -1.8, 1.5, -1.2,
     1.5, -1.2, 1.0, -1.5, 1.2, -1.0, 1.3, -1.2, 1.0, -1.4,
     1.2, -1.0, 1.5, -1.2, 1.0, -1.3, 1.2, -1.0, 1.4, -1.2,
     -1.5, 1.0, -1.2, 1.0, -0.8, 1.0, -0.9, 0.8, -1.0, 0.7, -0.3],
    [0, -0.8,
     1.2, -1.8, 1.5, -1.2, 2.0, -2.5, 2.0, -1.8, 2.5, -2.0,
     3.0, -6.0, 4.5, -3.5, 5.0, -4.0, 6.0, -7.0, 8.0, -6.0,
     9.0, -7.0, 5.0, -2.5, 2.0, -1.5, 1.8, -1.2, 1.0, -1.2,
     1.0, -0.8, 1.2, -1.0, 0.8, -1.0, 1.2, -0.9, 1.0, -0.8,
     1.0, -1.2, 0.8, -1.0, 1.0, -0.8, 1.2, -0.9, 1.0, -0.8,
     0.9, -1.0, 0.8, -1.0, 0.9, -0.7, 1.0, -0.8, 0.6, -0.8, -0.3],
    [0,
     -1.5, 2.0, -2.5, 3.0, -2.0, 2.5, -2.0, 3.0, -2.5, 3.5,
     -4.0, 3.5, -3.0, 4.0, -3.5, 3.0, -4.0, 3.5, -3.0, 3.5,
     -4.0, 3.0, -2.5, 2.0, -1.5, 1.8, -1.5, 1.2, -1.5, 1.0,
     -1.2, 1.0, -0.8, 1.2, -1.0, 0.8, -1.0, 1.2, -0.9, 1.0,
     -0.8, 1.0, -1.2, 0.9, -1.0, 0.8, -1.0, 1.2, -0.8, 1.0,
     -0.9, 0.8, -1.0, 0.9, -0.8, 1.0, -0.9, 0.8, -1.0, 0.8, -0.4],
    [0, -0.8,
     1.5, -2.0, 2.0, -1.5, 7.0, -8.0, 2.5, -2.0, 3.0, -2.5,
     9.0, -7.0, 5.0, -4.0, 4.5, -3.5, 4.0, -5.0, 4.5, -3.0,
     2.5, -2.0, 1.8, -2.0, 1.5, -1.8, 1.5, -1.2, 1.8, -1.5,
     1.8, -1.5, 2.0, -2.0, 1.5, -1.8, 1.8, -2.0, 1.5, -1.8,
     2.0, -1.5, 2.0, -1.8, 1.5, -2.0, 1.8, -1.5, 2.0, -1.8,
     1.5, -1.8, 1.5, -1.5, 1.8, -1.2, 1.5, -1.2, 1.0, -0.8, 0.3],
]

fig = plt.figure(figsize=(W / 100, H / 100), dpi=100)


def draw_panel(box, lim, t0s, nt, tt, title, tag, tag_xy, legend_right=False):
    left, right, top, bottom = box
    row_h = (bottom - top) / 9
    width = right - left
    for i, name in enumerate(stations):
        y0 = top + i * row_h
        ax = fig.add_axes([left / W, 1 - (y0 + row_h) / H, width / W, row_h / H])
        ax.patch.set_visible(False)
        x_nt = t0s[i] + np.arange(len(nt[i]))
        x_t = t0s[i] + np.arange(len(tt[i]))
        ax.plot(np.r_[0, x_nt], np.r_[0, nt[i]], color=RED, lw=0.8, label='NT, ' + name)
        ax.plot(np.r_[0, x_t], np.r_[0, tt[i]], color='black', lw=0.8, label='T, ' + name)
        ax.set_xlim(0, 70)
        ax.set_ylim(-lim, lim)
        ax.set_yticks([-lim, 0, lim])
        ax.set_yticklabels([str(-lim), '0', str(lim)])
        ax.tick_params(direction='in', length=3, width=0.7, labelsize=8.5, colors=AX, pad=3)
        for s in ax.spines.values():
            s.set_linewidth(0.8)
            s.set_color(AX)
        if i % 2 == 1:
            ax.tick_params(axis='y', left=True, right=True, labelleft=False, labelright=True)
        else:
            ax.spines['top'].set_visible(False)
            ax.spines['right'].set_visible(False)
            if i < 8:
                ax.spines['bottom'].set_visible(False)
        if i < 8:
            ax.tick_params(axis='x', bottom=False, labelbottom=False)
        else:
            ax.set_xticks(time_ticks)
            ax.tick_params(axis='x', pad=4)
        if legend_right:
            loc, anchor = 'upper right', (1 - 10 / width, 1 - 3 / row_h)
        else:
            loc, anchor = 'upper left', (10 / width, 1 - 3 / row_h)
        leg = ax.legend(loc=loc, bbox_to_anchor=anchor, borderaxespad=0, fontsize=8,
                        handlelength=3.8, handletextpad=0.25, borderpad=0.3,
                        labelspacing=0.35, fancybox=False, framealpha=1)
        leg.get_frame().set_edgecolor('black')
        leg.get_frame().set_linewidth(0.8)
    cx = (left + right) / 2
    fig.text(cx / W, 1 - (top - 13) / H, title, ha='center', va='center',
             fontsize=9.8, fontweight='bold', color='#1a1a1a')
    fig.text(cx / W, 1 - (bottom + 30) / H, 'Time (s)', ha='center', va='center',
             fontsize=9.5, color=AX)
    fig.text((left - 29) / W, 1 - (top + bottom) / 2 / H, 'Velocity (cm/s)', rotation=90,
             ha='center', va='center', fontsize=9.5, color=AX)
    fig.text(tag_xy[0] / W, 1 - tag_xy[1] / H, tag, ha='center', va='center',
             fontsize=40, style='italic', family='Open Sans', color='black')


draw_panel((47, 586, 93, 519), 5, deming1_t0, deming1_nt, deming1_t,
           'Velocity time series of Deming 1 Scenario in the E-W Direction', 'a)', (48, 50))
draw_panel((659, 1204, 86, 516), 10, mtvernon_t0, mtvernon_nt, mtvernon_t,
           'Velocity time series of Mt.Vernon Scenario in the E-W Direction', 'b)', (640, 37))
draw_panel((52, 610, 627, 1068), 5, deming2_t0, deming2_nt, deming2_t,
           'Velocity time series of Deming 2 Scenario in the E-W Direction', 'c)', (53, 590))
draw_panel((686, 1218, 650, 1070), 20, georgia_t0, georgia_nt, georgia_t,
           'Velocity time series of Georgia Scenario in the E-W Direction', 'd)', (691, 612),
           legend_right=True)

fig.savefig('out.png', dpi=100)
